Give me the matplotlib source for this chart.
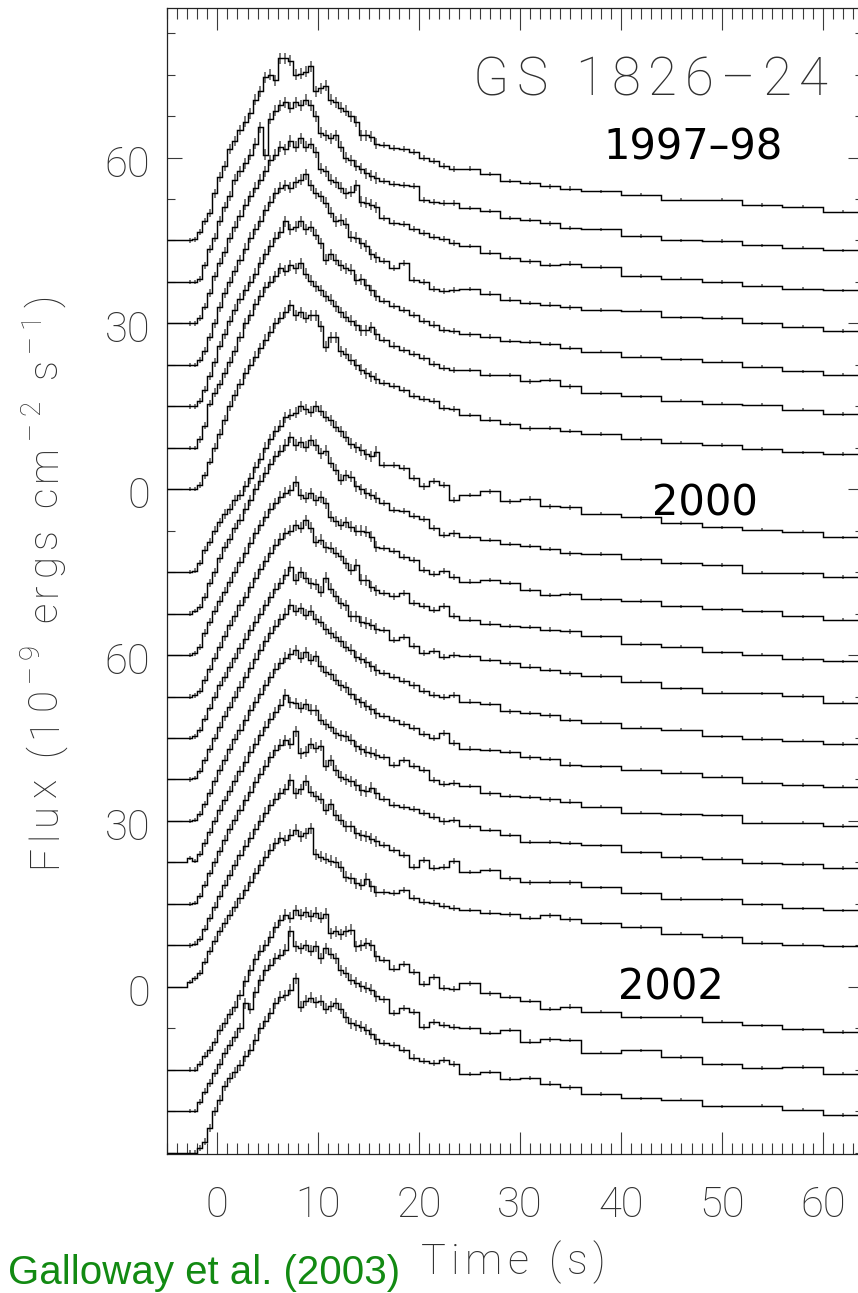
import numpy as np
import matplotlib
matplotlib.use("Agg")
import matplotlib.pyplot as plt
from matplotlib import font_manager as fm
from matplotlib.font_manager import FontProperties
from matplotlib.ticker import FixedLocator, MultipleLocator
import matplotlib.transforms as mtransforms

# ---------------------------------------------------------------------------
# Time bins (s): one wide pre-burst bin, 0.5 s bins through the peak,
# then progressively wider bins in the tail.
bin_edges = np.concatenate([
    [-5.0],
    np.arange(-3.0, 16.01, 0.5),
    np.arange(17.0, 24.01, 1.0),
    np.arange(26.0, 36.01, 2.0),
    np.arange(40.0, 64.01, 4.0),
])

# Flux above the persistent level (1e-9 erg cm^-2 s^-1), one row per burst
bursts_1997 = [
    [0, 0, 0.2, 1.5, 3.5, 5, 8.5, 11.5, 13.5, 16.5,
     18, 20, 21.5, 23, 25.5, 27, 29.5, 30, 29, 33,
     33, 32.5, 30, 30.2, 30.5, 31.5, 27, 27.5, 28, 25.5,
     25, 24, 23.5, 22.5, 21.5, 19, 19, 18.8, 17.5, 17.2,
     16.8, 16.5, 16, 15, 14.3, 13.5, 13, 13, 12, 10.8,
     10.4, 9.8, 9.4, 8.9, 8.3, 7.4, 7.4, 6.4, 6.1, 5.2],
    [0, 0, 0, 0.5, 3, 6, 8, 11, 13.5, 15.5,
     18.5, 20, 21.5, 23, 25, 28, 23, 29.5, 31, 32,
     32.5, 31.5, 32.5, 32, 33, 32, 30, 27, 26.5, 26,
     26.5, 24.5, 22.5, 22, 21, 20.5, 19.7, 19.2, 18.8, 18.2,
     17.8, 17.6, 17.3, 14.8, 14.4, 14.3, 14.2, 13.4, 12.8, 11.6,
     11.2, 10.6, 9.8, 9.5, 8.3, 7.5, 7.4, 6.6, 6.2, 5.7],
    [0, 0, 0, 1, 3, 5.5, 8.5, 11, 13, 15.5,
     17.5, 19.5, 21.5, 23, 24.5, 26, 27.5, 29.5, 30.5, 32,
     31.5, 33, 32, 33.5, 32, 32.5, 31, 28, 27.5, 26,
     25.5, 24.5, 23.5, 23.8, 25, 22, 21.8, 21.5, 21, 19,
     18.2, 18, 17, 16.3, 15.7, 15.2, 14.6, 14, 12.8, 11.8,
     11.2, 10.6, 10.8, 10.2, 8.6, 8.1, 7.5, 6.8, 6.3, 6.0],
    [0, 0, 0, 0.8, 2.5, 5, 7.5, 10.5, 13, 15,
     17, 19, 21, 23, 24.5, 26, 28, 29.5, 31, 32,
     32.5, 32, 33, 33.5, 34.5, 32.5, 31, 30.5, 29.3, 27.5,
     26, 26.2, 25.5, 23.2, 23, 22, 21.5, 20, 19.5, 18.8,
     17.5, 18.5, 15.4, 15, 13.8, 13.3, 13.5, 13.7, 12.9, 11.8,
     11.2, 10.9, 10.4, 9.9, 9.8, 8.6, 8.5, 7.5, 6.9, 6.1],
    [0, 0, 0, 1, 3, 5.5, 8, 11, 13, 15.5,
     17.5, 19.5, 21, 22.5, 24, 26, 27.5, 29, 30.5, 31.5,
     33.5, 32, 32.5, 33.5, 32, 32.5, 31, 29.5, 26.5, 27.5,
     26.5, 25.5, 25, 24.7, 22.9, 23, 22, 21, 20, 19,
     18.2, 17.5, 16.6, 15.5, 14.8, 13.8, 13.6, 13, 12.6, 11.8,
     11.6, 11.3, 10.5, 9.9, 9.0, 8.5, 8.1, 7.2, 6.3, 5.7],
    [0, 0, 0, 1.5, 4, 8, 10, 11.5, 13.5, 15.5,
     17.5, 20, 22.5, 24, 26, 27.5, 29, 30, 31, 32.5,
     32, 33, 32.5, 33.4, 31.5, 30.2, 29.2, 28.5, 27.4, 26.8,
     25.6, 24.5, 23.7, 23, 22.2, 21.3, 21.3, 21.8, 20.5, 19.5,
     18.5, 17.7, 16.9, 16.2, 15.2, 14.5, 14.1, 14.1, 13.2, 13.2,
     12.0, 12.3, 11.1, 9.9, 9.3, 8.5, 8.0, 7.8, 6.9, 6.1],
    [0, 0, 0, 0.8, 2.5, 5, 7.5, 10, 12.5, 15,
     17, 19, 21, 22.5, 24, 25.5, 27, 28.5, 30, 31,
     32, 33.3, 31.5, 32, 31, 31.5, 31.5, 29.5, 25.8, 27.5,
     27.5, 25, 24.5, 23.4, 22.5, 21.6, 21, 20.4, 20, 19.2,
     18.6, 18, 16.8, 16.3, 15.9, 14.7, 14.5, 13.4, 12.6, 11.8,
     11.0, 11.1, 10.5, 10.0, 9.1, 8.4, 8.0, 7.3, 6.7, 6.4],
]

bursts_2000 = [
    [0, 0, 0.3, 1.6, 4, 5.5, 7.5, 9, 10.5, 11.5,
     13, 14, 15.5, 17, 19, 20.5, 22.5, 24, 25.5, 26.5,
     28, 28.5, 28.8, 30, 29.5, 29, 30, 29.2, 28.1, 27.5,
     26.3, 25.5, 24.5, 23.2, 22.6, 22.1, 21.3, 21, 21.8, 19.4,
     19.4, 18.8, 17, 15.5, 16.5, 15.8, 13.1, 14, 14.6, 12.8,
     13.3, 11.9, 11.7, 10.6, 9.9, 8.9, 8.1, 7.7, 7.3, 6.3],
    [0, 0, 0.5, 1.2, 3, 5.5, 7.5, 10, 12, 13.5,
     15.5, 17, 19, 20.5, 22.5, 24, 25.5, 27, 28.5, 29.5,
     30.5, 31.9, 30.5, 31, 30.2, 31.4, 30.5, 29, 29.5, 27.3,
     26, 24.2, 25, 24.8, 23, 22.5, 21.8, 21.5, 21, 20,
     18.8, 18.5, 17.6, 17.2, 15.5, 14.2, 14.5, 13.9, 13.3, 12.6,
     12.2, 11.7, 10.9, 10.8, 9.8, 9.1, 8.8, 7.4, 7.3, 6.6],
    [0, 0, 0.3, 1.5, 4, 6, 8, 9.8, 11.5, 13.3,
     15, 16.8, 18.5, 20.3, 22, 23.5, 25, 26.5, 27.5, 28.6,
     29.4, 29.8, 31.4, 29, 28.5, 29.3, 28, 28.6, 27.5, 25,
     24.2, 23.6, 24, 23.2, 22.5, 22.5, 22.3, 21.4, 19.6, 19.4,
     18.9, 17.8, 17.2, 15.4, 14.7, 15.2, 14.1, 13.3, 13.6, 13,
     11.8, 10.9, 11, 10.1, 9.8, 8.8, 8.3, 7.9, 7.0, 6.4],
    [0, 0, 0.2, 1, 3, 5, 7, 9, 11, 13,
     14.5, 16.5, 18, 19.8, 21.5, 23, 24.5, 26, 27.5, 28.5,
     29.5, 30, 31, 30.5, 31.9, 30.5, 28, 28.4, 27, 26.9,
     26, 25.5, 24.1, 22.9, 23.8, 21.1, 21, 19.9, 19.2, 18.7,
     18.1, 18.8, 16.9, 16.3, 15.7, 16.3, 14.5, 13.9, 13.2, 12.8,
     12.6, 12.1, 11.8, 10.9, 9.5, 9.0, 8.0, 7.6, 6.8, 6.4],
    [0, 0, 0.3, 1.5, 3.5, 5.5, 7.5, 9.5, 11, 12.8,
     14.5, 16.2, 18, 19.5, 21, 22.5, 24, 25.5, 27, 28,
     29.5, 31, 28.6, 30, 29, 28, 27.8, 26.5, 29, 27,
     25.6, 24.4, 24, 22, 22, 21, 20.8, 20.5, 19.8, 19.6,
     17.8, 18.3, 16.6, 15.3, 15.8, 14.7, 15, 14.8, 14.1, 13.5,
     12.9, 12.3, 11.7, 11.2, 10.2, 9.0, 8.2, 8.1, 7.6, 6.4],
    [0, 0, 0.3, 1.5, 3.5, 5.5, 7.5, 9.5, 11.5, 13.2,
     15, 16.8, 18.5, 20.2, 21.8, 23.5, 25, 26.5, 27.8, 29,
     30, 31.6, 30.5, 31, 29.8, 30.5, 29, 28.5, 27.2, 26.5,
     25.8, 25, 24, 23.5, 22.2, 21.8, 21.2, 20.5, 19.8, 19.2,
     18.5, 17.8, 17, 16, 15.2, 15, 15.2, 14.1, 13.7, 12.3,
     12, 11.6, 10.8, 10.3, 9.4, 9.0, 7.8, 7.3, 7.0, 6.4],
    [0, 0, 0.2, 1.2, 3, 5, 7.2, 9.2, 11, 13,
     14.8, 16.5, 18.2, 20, 21.5, 23, 24.5, 26, 27.5, 28.5,
     29.5, 30.2, 30.9, 29.5, 30.5, 29.2, 29.8, 28, 27, 26.5,
     25.5, 24.5, 24.2, 23, 22, 21.5, 20.8, 20.2, 19.5, 19,
     18.2, 17.5, 16.8, 15.8, 15, 15.9, 14.1, 13.1, 12.8, 12.5,
     11.5, 11.2, 10.2, 9.9, 9.3, 8.7, 8.0, 6.9, 6.5, 6.2],
    [0, 0.8, 0.3, 1.5, 3.5, 5.5, 7.5, 9.5, 11.2, 13,
     14.8, 16.5, 18.2, 20, 21.5, 23, 24.5, 26, 27.2, 28.5,
     30.3, 29, 28.8, 28, 28.6, 27.6, 27.5, 25.8, 25, 24.5,
     23.4, 23, 22.8, 22.2, 21, 20.5, 20, 19.8, 19.5, 19.1,
     17.6, 18.6, 17.4, 16.7, 14.9, 14.2, 14.4, 13.8, 12.5, 12.0,
     11.8, 11.4, 11.0, 10.1, 9.0, 8.7, 8.5, 7.2, 7.2, 6.6],
    [0, 0, 0.2, 1.5, 3.5, 5.5, 7.5, 9.5, 11.5, 13.5,
     15.2, 17, 18.7, 20.3, 22, 23.5, 25, 26.5, 27.8, 28.8,
     29.6, 29, 31.2, 27.2, 27.5, 29, 28.2, 28.6, 25, 26,
     24.2, 23, 22.5, 22.2, 21.5, 20.6, 20.4, 21, 20, 19,
     17.8, 17.6, 17.2, 16.4, 15.8, 14.9, 15.2, 14, 13.4, 12.5,
     11.2, 11.2, 11.0, 10.6, 9.3, 8.5, 8.2, 7.4, 7.2, 6.5],
    [0, 0, 0.3, 1.2, 3, 5, 7, 9, 11, 12.8,
     14.5, 16.3, 18, 19.5, 21, 22.5, 24, 25.3, 26.5, 27.5,
     28.2, 29.9, 27.5, 28.2, 29.8, 27.8, 27, 26.5, 24.5, 25.5,
     23.5, 22.7, 21.5, 21.5, 20.3, 19.9, 19.7, 19.3, 18.8, 18.2,
     17.3, 16.4, 14.2, 15.5, 14, 14.2, 15.3, 13.3, 13.6, 12.1,
     11.4, 11.5, 11.4, 10.5, 9.4, 8.4, 8.3, 7.4, 6.7, 6.3],
    [0, 0.9, 1.5, 2.5, 4.5, 6.5, 8.3, 10, 11.5, 13,
     14.5, 16, 17.5, 19, 20.5, 22, 23.5, 24.8, 26, 27,
     26.5, 27.5, 28.4, 27.2, 27.8, 28.7, 24, 23.5, 23.2, 22.8,
     22.5, 21.7, 19.9, 19.6, 18.7, 18.5, 19.5, 18.2, 17.2, 17.1,
     16.9, 17.5, 16, 15.4, 15.1, 14.6, 14.2, 13.9, 13.4, 13.1,
     12.4, 12.9, 12.2, 11.5, 10.8, 9.6, 9.0, 7.9, 7.6, 7.3],
]

bursts_2002 = [
    [0, 0, 0, 1, 2.5, 3.6, 5, 7.2, 8.5, 10,
     11.4, 13.5, 16, 18, 20, 21.5, 22.5, 24, 25.8, 27,
     28, 27.5, 28.8, 28, 28.5, 27.8, 28.4, 27.5, 28.2, 24.7,
     25, 24.5, 25, 25.3, 22.3, 22.5, 22.9, 22.5, 20.5, 19.8,
     18.3, 19.2, 17.7, 15.5, 16.8, 14.7, 14.6, 15.6, 13.8, 13.2,
     12.4, 11.0, 11.4, 10.5, 9.5, 9.6, 8.7, 8.0, 7.3, 6.8],
    [0, 0, 0, 1.7, 3.5, 5.1, 6.9, 8.5, 10.5, 12,
     13.5, 15, 19.5, 18.5, 21.5, 23.7, 25.5, 26.5, 27.7, 28.3,
     29.2, 32.5, 29.8, 29.5, 30, 29, 29.8, 27.7, 29.5, 28.5,
     27.7, 25.5, 25, 23.8, 23.2, 22.6, 22.3, 22, 20.8, 20.2,
     17.7, 18.6, 18, 15.3, 16.2, 15.6, 15.3, 15, 14.1, 14.7,
     12.6, 13, 12.9, 10.6, 11.0, 9.8, 8.5, 7.8, 8.0, 6.8],
    [0, 0, 0, 0.8, 2, 4.5, 7.5, 9.5, 12, 13.5,
     14.5, 15.8, 17.4, 18.6, 20.4, 22.5, 23.8, 25.2, 27, 28.2,
     28.5, 29.5, 31.5, 26.4, 27.5, 28, 27.2, 27.5, 26, 26.5,
     27, 26, 24.5, 23.4, 23, 22.8, 22.2, 21.5, 20.5, 19.8,
     19.5, 18.6, 17.2, 16.6, 16.2, 16.8, 16, 14.2, 14.6, 13.3,
     13.5, 12.5, 11.8, 10.6, 9.8, 9.6, 8.4, 8.5, 7.8, 6.8],
]

# Vertical offset applied to each burst so the light curves stack
offsets_1997 = [135, 127.5, 120, 112.5, 105, 97.5, 90]
offsets_2000 = [75, 67.5, 60, 52.5, 45, 37.5, 30, 22.5, 15, 7.5, 0]
offsets_2002 = [-15, -22.5, -30]

# 1-sigma uncertainty per time bin
bin_err = ([0.0] + [0.4] * 2 + [0.55, 0.65, 0.7, 0.8]
           + [0.85, 0.9, 0.9, 0.95, 0.95, 1.0] + [1.0] * 26
           + [0.55] * 8 + [0.4] * 6 + [0.3] * 7)

epoch_labels = ["1997\u201398", "2000", "2002"]
x_ticks = [0, 10, 20, 30, 40, 50, 60]
y_ticks = [0, 30, 60, 90, 120, 150]
y_tick_labels = ["0", "30", "60", "0", "30", "60"]

for rows in (bursts_1997, bursts_2000, bursts_2002):
    for r in rows:
        assert len(r) == len(bin_edges) - 1, len(r)
assert len(bin_err) == len(bin_edges) - 1


# ---------------------------------------------------------------------------
def _weights(fam):
    ws = []
    for e in fm.fontManager.ttflist:
        if e.name == fam and e.style == "normal":
            w = e.weight
            if isinstance(w, str):
                w = fm.weight_dict.get(w, 400)
            ws.append(int(w))
    return ws


def thin_face():
    # prefer a genuinely thin face; fall back to a light one
    for fam, lo, hi, color in [("Roboto", 100, 250, "#303030"),
                               ("Lato", 150, 250, "#303030"),
                               ("Lato", 100, 150, "#1e1e1e"),
                               ("Open Sans", 250, 300, "#5a5a5a")]:
        ok = [w for w in _weights(fam) if lo <= w <= hi]
        if ok:
            return fam, max(ok), color
    return "DejaVu Sans", 400, "#5a5a5a"


THIN_FAM, THIN_W, TXT_COLOR = thin_face()
thin = dict(family=[THIN_FAM, "DejaVu Sans"], weight=THIN_W)

W, H = 858, 1293
DPI = 100
fig = plt.figure(figsize=(W / DPI, H / DPI), dpi=DPI)
ax = fig.add_axes([0.19447, 0.10750, 0.81147, 0.88608])

centers = 0.5 * (bin_edges[:-1] + bin_edges[1:])
err = np.asarray(bin_err)

all_rows = bursts_1997 + bursts_2000 + bursts_2002
all_offsets = offsets_1997 + offsets_2000 + offsets_2002
for flux, off in zip(all_rows, all_offsets):
    y = np.asarray(flux, dtype=float) + off
    has_err = err > 0
    ax.vlines(centers[has_err], (y - err)[has_err], (y + err)[has_err],
              color="#7a7a7a", lw=1.4, zorder=2)
    ax.stairs(y, bin_edges, baseline=None, color="black", lw=1.05, zorder=3)

ax.set_xlim(-5, 64)
ax.set_ylim(-30.25, 177.0)

ax.xaxis.set_major_locator(FixedLocator(x_ticks))
ax.xaxis.set_minor_locator(MultipleLocator(1))
ax.yaxis.set_major_locator(FixedLocator(y_ticks))
ax.yaxis.set_minor_locator(MultipleLocator(7.5))
ax.set_xticklabels([str(v) for v in x_ticks])
ax.set_yticklabels(y_tick_labels)

ax.tick_params(which="both", direction="in", top=True, right=True,
               color="#3a3a3a", width=0.8, labelcolor=TXT_COLOR,
               labelsize=30)
ax.tick_params(axis="x", which="major", length=15.8, pad=22)
ax.tick_params(axis="x", which="minor", length=7.9)
ax.tick_params(axis="y", which="major", length=10.8, pad=12)
ax.tick_params(axis="y", which="minor", length=5.8)
for lab in ax.get_xticklabels() + ax.get_yticklabels():
    lab.set_fontfamily(thin["family"])
    lab.set_fontweight(THIN_W)
shift = mtransforms.ScaledTranslation(0, -3 / DPI, fig.dpi_scale_trans)
for lab in ax.get_yticklabels():
    lab.set_transform(lab.get_transform() + shift)

for sp in ax.spines.values():
    sp.set_linewidth(0.9)
    sp.set_color("#222222")


def fx(px):
    return px / W


def fy(py):
    return 1 - py / H


def glyph_advances(text, size):
    prop = FontProperties(family=THIN_FAM, weight=THIN_W, size=size)
    font = fm.get_font(fm.findfont(prop))
    font.set_size(size, DPI)
    return [font.load_char(ord(ch)).linearHoriAdvance / 65536 for ch in text]


def spaced_text(segments, x0, y0, span, vertical=False):
    """Draw thin text character by character, spread over `span` pixels.

    segments: list of (text, size_pt, raised) tuples.
    (x0, y0): pixel position of the start of the baseline.
    """
    chars = []
    for text, size, raised in segments:
        for ch, adv in zip(text, glyph_advances(text, size)):
            chars.append((ch, size, raised, adv))
    natural = sum(c[3] for c in chars) - chars[-1][3]
    last_w = chars[-1][3]
    gap = (span - last_w - natural) / (len(chars) - 1)
    base_px = max(c[1] for c in chars) * DPI / 72
    pos = 0.0
    for ch, size, raised, adv in chars:
        if ch != " ":
            rise = 0.42 * base_px if raised else 0.0
            if vertical:
                px, py, rot = x0 - rise, y0 - pos, 90
            else:
                px, py, rot = x0 + pos, y0 - rise, 0
            fig.text(fx(px), fy(py), ch, rotation=rot,
                     rotation_mode="anchor", ha="left", va="baseline",
                     fontsize=size, color=TXT_COLOR, **thin)
        pos += adv + gap


# source name, thin lettering spread like the plotting-package font
spaced_text([("GS 1826\u201324", 38, False)], 473, 95, 355)

# axis titles
spaced_text([("Flux (10", 29, False), ("\u20139", 20, True),
             (" ergs cm", 29, False), ("\u20132", 20, True),
             (" s", 29, False), ("\u20131", 20, True), (")", 29, False)],
            56, 868, 573, vertical=True)
spaced_text([("Time (s)", 30, False)], 421, 1274, 184)

# epoch labels
fig.text(fx(603), fy(160), epoch_labels[0], ha="left", va="baseline",
         fontsize=30, color="black", family="DejaVu Sans")
fig.text(fx(652), fy(515), epoch_labels[1], ha="left", va="baseline",
         fontsize=30, color="black", family="DejaVu Sans")
fig.text(fx(618), fy(1000), epoch_labels[2], ha="left", va="baseline",
         fontsize=30, color="black", family="DejaVu Sans")

fig.text(fx(8), fy(1284), "Galloway et al. (2003)", ha="left",
         va="baseline", fontsize=29, color="#128a12",
         family=["Liberation Sans", "DejaVu Sans"])

fig.savefig("out.png", dpi=DPI)
